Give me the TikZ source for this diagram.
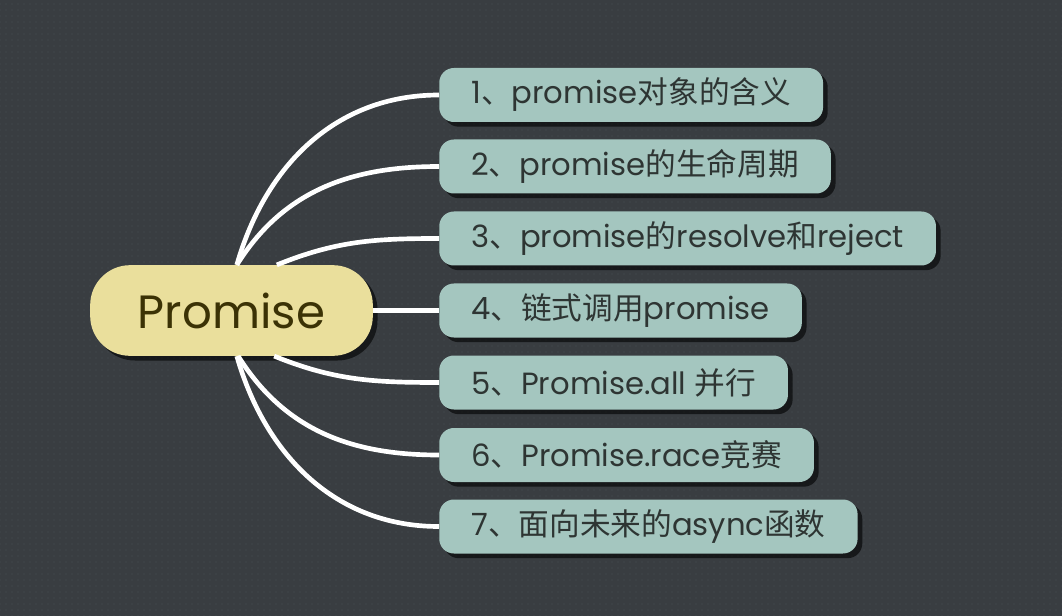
\documentclass[tikz,border=0pt]{standalone}
\usepackage{fontspec}
\setmainfont{Poppins}
\newfontfamily\cjk{Noto Sans CJK SC}
\usetikzlibrary{shadows,patterns.meta}
\definecolor{bgdark}{HTML}{393D41}
\definecolor{bgdot}{HTML}{4A4F53}
\definecolor{rootfill}{HTML}{EADF9C}
\definecolor{roottext}{HTML}{3B3205}
\definecolor{topicfill}{HTML}{A4C6BF}
\definecolor{topictext}{HTML}{2E3533}
\newcommand{\zh}[1]{{\cjk #1}}
\tikzset{
	rootnode/.style = {rounded corners=30pt, fill=rootfill, text=roottext, font=\fontsize{35}{40}\selectfont, minimum width=212pt, minimum height=68pt, drop shadow={shadow xshift=3.5pt, shadow yshift=-3.5pt, opacity=0.6, fill=black}},
	topic/.style = {anchor=west, rounded corners=11pt, fill=topicfill, text=topictext, font=\fontsize{23}{26}\selectfont, minimum height=40.5pt, inner xsep=24pt, drop shadow={shadow xshift=3.5pt, shadow yshift=-3.5pt, opacity=0.6, fill=black}},
	branch/.style = {white, line width=3.5pt}
}

\begin{document}
\begin{tikzpicture}[x=0.75pt, y=-0.75pt]
% background
\fill[bgdark] (0,0) rectangle (1062,616);
\fill[pattern={Dots[distance=4.5pt, radius=0.5pt]}, pattern color=bgdot] (0,0) rectangle (1062,616);
\useasboundingbox (0,0) rectangle (1062,616);

% central topic
\node [rootnode] (root) at (231.5,310.5) {Promise};

% topics
\node [topic] (t1) at (439,95)  {1\zh{、}promise\zh{对象的含义}};
\node [topic] (t2) at (439,166.5) {2\zh{、}promise\zh{的生命周期}};
\node [topic] (t3) at (439,238.5) {3\zh{、}promise\zh{的}resolve\zh{和}reject};
\node [topic] (t4) at (439,310.5) {4\zh{、链式调用}promise};
\node [topic] (t5) at (439,382.5) {5\zh{、}Promise.all \zh{并行}};
\node [topic] (t6) at (439,455)  {6\zh{、}Promise.race\zh{竞赛}};
\node [topic] (t7) at (439,526.5) {7\zh{、面向未来的}async\zh{函数}};

% connectors
\draw[branch] ([xshift=4pt]root.north) to[out=74,in=180] (t1.west);
\draw[branch] ([xshift=4pt]root.north) to[out=58,in=180] (t2.west);
\draw[branch] ([xshift=34pt]root.north) to[out=22,in=180] (t3.west);
\draw[branch] (root.east) -- (t4.west);
\draw[branch] ([xshift=32pt]root.south) to[out=-22,in=180] (t5.west);
\draw[branch] ([xshift=5pt]root.south) to[out=-58,in=180] (t6.west);
\draw[branch] ([xshift=4pt]root.south) to[out=-74,in=180] (t7.west);
\end{tikzpicture}
\end{document}
